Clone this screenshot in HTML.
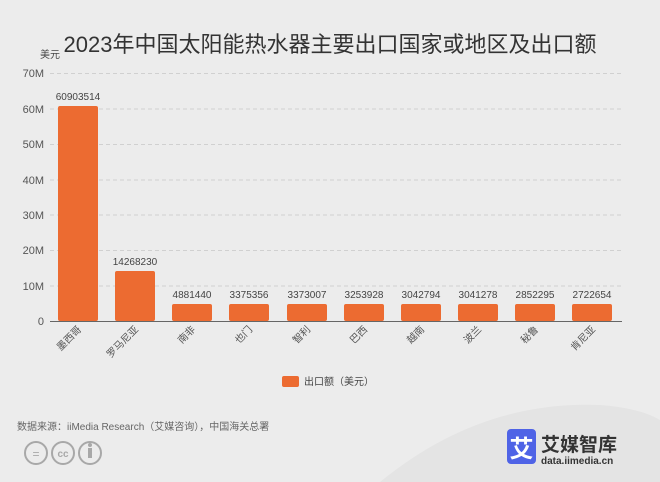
<!DOCTYPE html>
<html><head><meta charset="utf-8"><style>
html,body{margin:0;padding:0;}
body{width:660px;height:482px;background:#ececec;font-family:"Liberation Sans","Noto Sans CJK SC",sans-serif;overflow:hidden;position:relative;}
</style></head><body>
<svg width="660" height="482" style="position:absolute;left:0;top:0">
<defs><linearGradient id="g" x1="0" y1="0" x2="1" y2="1"><stop offset="0" stop-color="#ececec"/><stop offset="1" stop-color="#e2e2e2"/></linearGradient></defs>
<path d="M380 482 Q480 400 600 405 Q640 408 660 420 L660 482 Z" fill="#e4e4e4"/>
<text x="330" y="52" text-anchor="middle" font-size="22" fill="#333" font-family="Liberation Sans,Noto Sans CJK SC,sans-serif">2023年中国太阳能热水器主要出口国家或地区及出口额</text>
<text x="40" y="58" font-size="10" fill="#444" font-family="Noto Sans CJK SC,sans-serif">美元</text>
<g stroke="#d0d0d0" stroke-dasharray="4,3" stroke-width="1">
<line x1="50" x2="622" y1="73.5" y2="73.5"/><line x1="50" x2="622" y1="109" y2="109"/><line x1="50" x2="622" y1="144.5" y2="144.5"/><line x1="50" x2="622" y1="180" y2="180"/><line x1="50" x2="622" y1="215" y2="215"/><line x1="50" x2="622" y1="250.5" y2="250.5"/><line x1="50" x2="622" y1="286" y2="286"/>
</g>
<line x1="50" x2="622" y1="321.5" y2="321.5" stroke="#666" stroke-width="1"/>
<g font-size="11" fill="#555" text-anchor="end">
<text x="44" y="77">70M</text><text x="44" y="113">60M</text><text x="44" y="148">50M</text><text x="44" y="184">40M</text><text x="44" y="219">30M</text><text x="44" y="254">20M</text><text x="44" y="290">10M</text><text x="44" y="325">0</text>
</g>
<g fill="#ec6b31">
<rect x="58" y="106" width="40" height="215" rx="2"/>
<rect x="115" y="271" width="40" height="50" rx="2"/>
<rect x="172" y="304" width="40" height="17" rx="2"/>
<rect x="229" y="304" width="40" height="17" rx="2"/>
<rect x="287" y="304" width="40" height="17" rx="2"/>
<rect x="344" y="304" width="40" height="17" rx="2"/>
<rect x="401" y="304" width="40" height="17" rx="2"/>
<rect x="458" y="304" width="40" height="17" rx="2"/>
<rect x="515" y="304" width="40" height="17" rx="2"/>
<rect x="572" y="304" width="40" height="17" rx="2"/>
</g>
<g font-size="10" fill="#444" text-anchor="middle">
<text x="78" y="100">60903514</text><text x="135" y="265">14268230</text><text x="192" y="298">4881440</text><text x="249" y="298">3375356</text><text x="307" y="298">3373007</text><text x="364" y="298">3253928</text><text x="421" y="298">3042794</text><text x="478" y="298">3041278</text><text x="535" y="298">2852295</text><text x="592" y="298">2722654</text>
</g>
<g font-size="10" fill="#555" text-anchor="end" font-family="Noto Sans CJK SC,sans-serif">
<text transform="translate(82,330) rotate(-45)">墨西哥</text>
<text transform="translate(139,330) rotate(-45)">罗马尼亚</text>
<text transform="translate(196,330) rotate(-45)">南非</text>
<text transform="translate(253,330) rotate(-45)">也门</text>
<text transform="translate(311,330) rotate(-45)">智利</text>
<text transform="translate(368,330) rotate(-45)">巴西</text>
<text transform="translate(425,330) rotate(-45)">越南</text>
<text transform="translate(482,330) rotate(-45)">波兰</text>
<text transform="translate(539,330) rotate(-45)">秘鲁</text>
<text transform="translate(596,330) rotate(-45)">肯尼亚</text>
</g>
<rect x="282" y="376" width="17" height="11" rx="2" fill="#ec6b31"/>
<text x="304" y="385" font-size="10" fill="#444" font-family="Noto Sans CJK SC,sans-serif">出口额（美元）</text>
<text x="17" y="430" font-size="10" fill="#666" font-family="Liberation Sans,Noto Sans CJK SC,sans-serif">数据来源：iiMedia Research（艾媒咨询），中国海关总署</text>
<g fill="none" stroke="#a8a8a8" stroke-width="2">
<circle cx="36" cy="453" r="11"/><circle cx="63" cy="453" r="11"/><circle cx="90" cy="453" r="11"/>
</g>
<text x="36" y="458" font-size="12" fill="#a8a8a8" text-anchor="middle">=</text>
<text x="63" y="457" font-size="10" fill="#a8a8a8" text-anchor="middle" font-weight="bold">cc</text>
<rect x="88" y="448" width="4" height="10" fill="#a8a8a8"/><circle cx="90" cy="445" r="2" fill="#a8a8a8"/>
<rect x="507" y="429" width="29" height="35" rx="4" fill="#4f63e6"/>
<text x="521.5" y="457" font-size="24" fill="#fff" text-anchor="middle" font-weight="bold" font-family="Noto Sans CJK SC,sans-serif">艾</text>
<text x="541" y="451" font-size="19" fill="#333" font-weight="bold" font-family="Noto Sans CJK SC,sans-serif">艾媒智库</text>
<text x="541" y="464" font-size="10" fill="#333" font-weight="bold">data.iimedia.cn</text>
</svg>
</body></html>
